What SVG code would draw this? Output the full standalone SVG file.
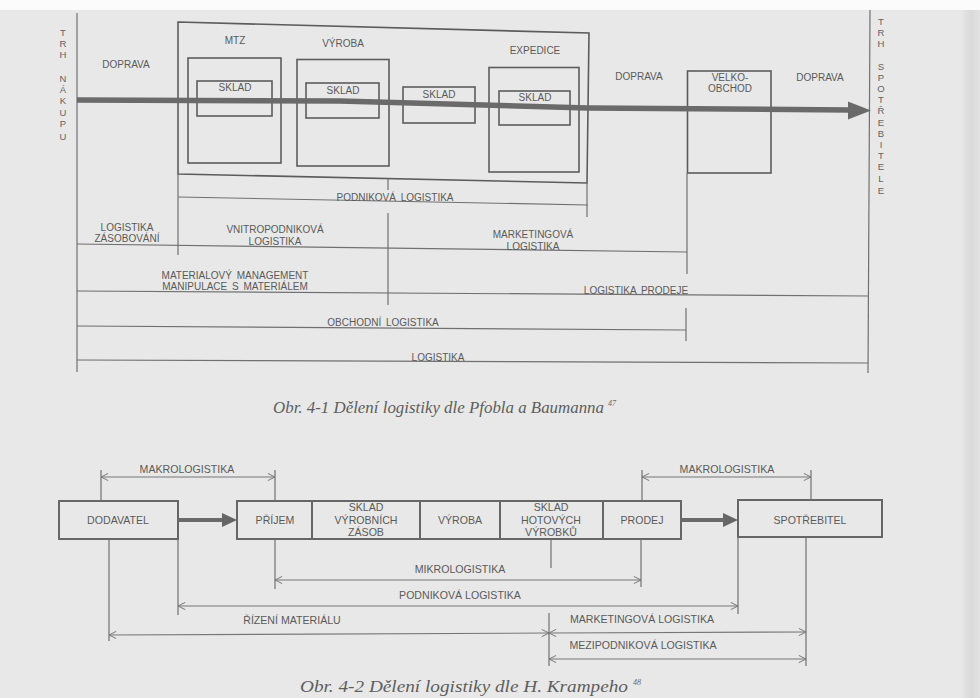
<svg xmlns="http://www.w3.org/2000/svg" width="980" height="698" viewBox="0 0 980 698">
  <defs>
    <style>
      .ln { stroke: #707070; stroke-width: 1.2; fill: none; }
      .bx { stroke: #5c5c5c; stroke-width: 1.6; fill: none; }
      .bb { stroke: #666666; stroke-width: 2; fill: none; }
      .dim { stroke: #777777; stroke-width: 1.1; fill: none; marker-start: url(#chev); marker-end: url(#chev); }
      .t { font-family: "Liberation Sans", Arial, sans-serif; font-size: 10px; fill: #5a5a5a; text-anchor: middle; dominant-baseline: central; word-spacing: 2px; }
      .tb { font-family: "Liberation Sans", Arial, sans-serif; font-size: 10.6px; fill: #5a5a5a; text-anchor: middle; dominant-baseline: central; }
      .v { font-family: "Liberation Sans", Arial, sans-serif; font-size: 9.5px; fill: #626262; text-anchor: middle; dominant-baseline: central; }
      .cap { font-family: "Liberation Serif", "Times New Roman", serif; font-style: italic; font-size: 16px; fill: #5e5e5e; }
      .sup { font-family: "Liberation Serif", "Times New Roman", serif; font-style: italic; font-size: 8px; fill: #6a6a6a; }
      .flow { stroke: #6a6a6a; fill: none; }
    </style>
    <marker id="chev" viewBox="0 0 10 10" refX="9" refY="5" markerWidth="9" markerHeight="9" markerUnits="userSpaceOnUse" orient="auto-start-reverse">
      <path d="M1,1 L9,5 L1,9" fill="none" stroke="#777777" stroke-width="1.1"/>
    </marker>
    <linearGradient id="edge" x1="0" y1="0" x2="1" y2="0">
      <stop offset="0" stop-color="#e6e6e6"/>
      <stop offset="0.5" stop-color="#d9d9d9"/>
      <stop offset="1" stop-color="#e2e2e2"/>
    </linearGradient>
  </defs>

  <!-- page -->
  <rect x="0" y="0" width="980" height="698" fill="#e8e8e8"/>
  <rect x="0" y="0" width="980" height="10" fill="#fbfbfb"/>
  <rect x="962" y="10" width="18" height="688" fill="url(#edge)"/>

  <!-- ===== Figure 4-1 ===== -->
  <g id="fig1">
    <g id="market-purchase">
      <line class="ln" x1="77" y1="13" x2="77" y2="372"/>
      <text class="v" x="63" y="32">T</text>
      <text class="v" x="63" y="43">R</text>
      <text class="v" x="63" y="54">H</text>
      <text class="v" x="63" y="78">N</text>
      <text class="v" x="63" y="89">Á</text>
      <text class="v" x="63" y="100">K</text>
      <text class="v" x="63" y="112">U</text>
      <text class="v" x="63" y="123">P</text>
      <text class="v" x="63" y="136">U</text>
    </g>
    <g id="market-consumer">
      <line class="ln" x1="870" y1="10" x2="868" y2="373"/>
      <text class="v" x="881" y="21">T</text>
      <text class="v" x="881" y="32">R</text>
      <text class="v" x="881" y="43">H</text>
      <text class="v" x="881" y="66">S</text>
      <text class="v" x="881" y="77">P</text>
      <text class="v" x="881" y="88">O</text>
      <text class="v" x="881" y="99">T</text>
      <text class="v" x="881" y="110">Ř</text>
      <text class="v" x="881" y="122">E</text>
      <text class="v" x="881" y="133">B</text>
      <text class="v" x="881" y="144">I</text>
      <text class="v" x="881" y="155">T</text>
      <text class="v" x="881" y="166">E</text>
      <text class="v" x="881" y="178">L</text>
      <text class="v" x="881" y="190">E</text>
    </g>

    <g id="doprava-1"><text class="t" x="126" y="64">DOPRAVA</text></g>

    <g id="podnik">
      <polygon class="bx" points="178,22 589,33 587,183 178,174"/>
      <line class="ln" x1="587" y1="183" x2="587" y2="217"/>
      <line class="ln" x1="178" y1="174" x2="178" y2="255"/>
      <line class="ln" x1="388" y1="179" x2="388" y2="190"/>
    </g>

    <g id="mtz">
      <text class="t" x="235" y="40">MTZ</text>
      <rect class="bx" x="188" y="58" width="93" height="105"/>
      <rect class="bx" x="197" y="81" width="75" height="35"/>
      <text class="t" x="235" y="87">SKLAD</text>
    </g>

    <g id="vyroba">
      <text class="t" x="343" y="43">VÝROBA</text>
      <rect class="bx" x="297" y="59.5" width="92" height="106.5"/>
      <rect class="bx" x="306" y="83" width="73" height="35"/>
      <text class="t" x="343" y="90">SKLAD</text>
    </g>

    <g id="sklad-mid">
      <rect class="bx" x="403" y="87" width="72" height="36"/>
      <text class="t" x="439" y="94">SKLAD</text>
    </g>

    <g id="expedice">
      <text class="t" x="535" y="50">EXPEDICE</text>
      <rect class="bx" x="489" y="67.5" width="90" height="104.5"/>
      <rect class="bx" x="499" y="91" width="71" height="34"/>
      <text class="t" x="535" y="97">SKLAD</text>
    </g>

    <g id="doprava-2"><text class="t" x="639" y="76">DOPRAVA</text></g>

    <g id="velkoobchod">
      <rect class="bx" x="687.5" y="71" width="83.5" height="102"/>
      <line class="ln" x1="687" y1="173" x2="687" y2="274"/>
      <text class="t" x="730" y="77">VELKO-</text>
      <text class="t" x="730" y="88">OBCHOD</text>
    </g>

    <g id="doprava-3"><text class="t" x="820" y="77">DOPRAVA</text></g>

    <!-- flow of goods and the division scales -->
    <g id="fig1-connectors">
      <path class="flow" stroke-width="5.5" d="M77,100 L340,101 L588,108 L850,110"/>
      <polygon points="848,101.5 871,110.5 848,119.5" fill="#6a6a6a"/>

      <line class="ln" x1="178" y1="197" x2="588" y2="205"/>
      <line class="ln" x1="388" y1="213" x2="388" y2="305"/>
      <line class="ln" x1="77" y1="244" x2="687" y2="252"/>
      <line class="ln" x1="77" y1="291" x2="868" y2="296"/>
      <line class="ln" x1="77" y1="326" x2="686" y2="330"/>
      <line class="ln" x1="686" y1="308" x2="686" y2="341"/>
      <line class="ln" x1="77" y1="360" x2="868" y2="363"/>
    </g>

    <g id="fig1-labels">
      <text class="t" x="395" y="197">PODNIKOVÁ LOGISTIKA</text>
      <text class="t" x="127" y="227">LOGISTIKA</text>
      <text class="t" x="127" y="238">ZÁSOBOVÁNÍ</text>
      <text class="t" x="275" y="229">VNITROPODNIKOVÁ</text>
      <text class="t" x="275" y="241">LOGISTIKA</text>
      <text class="t" x="533" y="234">MARKETINGOVÁ</text>
      <text class="t" x="533" y="246">LOGISTIKA</text>
      <text class="t" x="235" y="275">MATERIALOVÝ MANAGEMENT</text>
      <text class="t" x="235" y="286">MANIPULACE S MATERIÁLEM</text>
      <text class="t" x="636" y="290">LOGISTIKA  PRODEJE</text>
      <text class="t" x="383" y="322">OBCHODNÍ LOGISTIKA</text>
      <text class="t" x="438" y="357">LOGISTIKA</text>
    </g>

    <g id="caption-1">
      <text class="cap" x="273" y="413" textLength="331" lengthAdjust="spacingAndGlyphs">Obr. 4-1 Dělení logistiky dle Pfobla a Baumanna</text>
      <text class="sup" x="608" y="406">47</text>
    </g>
  </g>

  <!-- ===== Figure 4-2 ===== -->
  <g id="fig2">
    <g id="dodavatel">
      <rect class="bb" x="59" y="501" width="119" height="38"/>
      <text class="tb" x="118" y="520">DODAVATEL</text>
    </g>

    <g id="podnik-chain">
      <rect class="bb" x="237" y="501" width="444" height="38"/>
      <line class="bb" x1="312" y1="501" x2="312" y2="539"/>
      <line class="bb" x1="420" y1="501" x2="420" y2="539"/>
      <line class="bb" x1="500" y1="501" x2="500" y2="539"/>
      <line class="bb" x1="603" y1="501" x2="603" y2="539"/>
      <text class="tb" x="275" y="520">PŘÍJEM</text>
      <text class="tb" x="366" y="507">SKLAD</text>
      <text class="tb" x="366" y="520">VÝROBNÍCH</text>
      <text class="tb" x="366" y="532">ZÁSOB</text>
      <text class="tb" x="460" y="520">VÝROBA</text>
      <text class="tb" x="551" y="507">SKLAD</text>
      <text class="tb" x="551" y="520">HOTOVÝCH</text>
      <text class="tb" x="551" y="532">VÝROBKŮ</text>
      <text class="tb" x="642" y="520">PRODEJ</text>
    </g>

    <g id="spotrebitel">
      <rect class="bb" x="738" y="500" width="144" height="37"/>
      <text class="tb" x="810" y="520">SPOTŘEBITEL</text>
    </g>

    <g id="fig2-connectors">
      <!-- material flow -->
      <line class="flow" stroke-width="4" x1="178" y1="520" x2="224" y2="520"/>
      <polygon points="222,513 237,520 222,527" fill="#666666"/>
      <line class="flow" stroke-width="4" x1="681" y1="520" x2="725" y2="520"/>
      <polygon points="723,513 738,520 723,527" fill="#666666"/>

      <!-- extension lines -->
      <line class="ln" x1="101" y1="470" x2="101" y2="501"/>
      <line class="ln" x1="275" y1="470" x2="275" y2="501"/>
      <line class="ln" x1="642" y1="470" x2="642" y2="501"/>
      <line class="ln" x1="811" y1="470" x2="811" y2="500"/>
      <line class="ln" x1="275" y1="539" x2="275" y2="589"/>
      <line class="ln" x1="641" y1="539" x2="641" y2="587"/>
      <line class="ln" x1="551" y1="539" x2="551" y2="568"/>
      <line class="ln" x1="178" y1="539" x2="178" y2="615"/>
      <line class="ln" x1="738" y1="537" x2="738" y2="614"/>
      <line class="ln" x1="109" y1="539" x2="109" y2="641"/>
      <line class="ln" x1="549" y1="613" x2="549" y2="666"/>
      <line class="ln" x1="806" y1="537" x2="806" y2="666"/>

      <!-- scales -->
      <line class="dim" x1="101" y1="477" x2="275" y2="477"/>
      <line class="dim" x1="642" y1="477" x2="811" y2="477"/>
      <line class="dim" x1="275" y1="580" x2="641" y2="580"/>
      <line class="dim" x1="178" y1="606" x2="738" y2="606"/>
      <line class="dim" x1="109" y1="635" x2="549" y2="633"/>
      <line class="dim" x1="549" y1="633" x2="806" y2="632"/>
      <line class="dim" x1="549" y1="659" x2="806" y2="659"/>
    </g>

    <g id="fig2-labels">
      <text class="tb" x="187" y="469">MAKROLOGISTIKA</text>
      <text class="tb" x="727" y="469">MAKROLOGISTIKA</text>
      <text class="tb" x="460" y="569">MIKROLOGISTIKA</text>
      <text class="tb" x="460" y="595">PODNIKOVÁ LOGISTIKA</text>
      <text class="tb" x="292" y="620">ŘÍZENÍ MATERIÁLU</text>
      <text class="tb" x="642" y="619">MARKETINGOVÁ LOGISTIKA</text>
      <text class="tb" x="643" y="645">MEZIPODNIKOVÁ LOGISTIKA</text>
    </g>

    <g id="caption-2">
      <text class="cap" x="300" y="692" textLength="328" lengthAdjust="spacingAndGlyphs">Obr. 4-2 Dělení logistiky dle H. Krampeho</text>
      <text class="sup" x="633" y="685">48</text>
    </g>
  </g>
</svg>
